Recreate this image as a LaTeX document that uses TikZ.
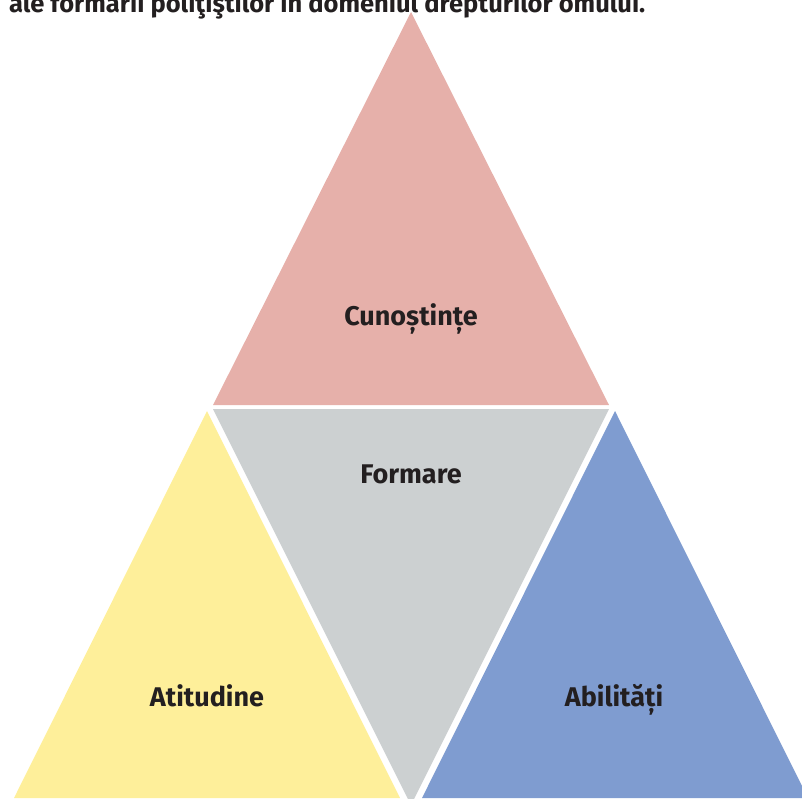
\documentclass[tikz,border=0pt]{standalone}
\usepackage{fontspec}
\setmainfont{Fira Sans}
\definecolor{cpink}{HTML}{E6B0AA}
\definecolor{cgray}{HTML}{CCD0D1}
\definecolor{cyellow}{HTML}{FEEF9A}
\definecolor{cblue}{HTML}{7F9CD0}
\definecolor{ctext}{HTML}{231F20}
\begin{document}
\begin{tikzpicture}[x=1pt,y=-1pt,
  lbl/.style={font=\fontsize{27}{31}\selectfont\bfseries, text=ctext, inner sep=0pt, anchor=base}]
\useasboundingbox (0,0) rectangle (802,798);
\clip (0,0) rectangle (802,798);
\fill[cpink] (411,12) coordinate (p1) -- (213,405) coordinate (p2) -- (609,405) coordinate (p3) -- cycle;
\fill[cgray] (213,409) coordinate (g1) -- (609,409) coordinate (g2) -- (411,805) coordinate (g3) -- cycle;
\fill[cyellow] (207,411) coordinate (y1) -- (14,798) coordinate (y2) -- (400,798) coordinate (y3) -- cycle;
\fill[cblue] (615,411) coordinate (b1) -- (422,798) coordinate (b2) -- (808,798) coordinate (b3) -- cycle;
\node[lbl, font=\fontsize{25.5}{29}\selectfont\bfseries, anchor=base west] (title) at (9,12) {ale formării poliţiştilor în domeniul drepturilor omului.};
\node[lbl] (cun) at (411,325) {Cunoștințe};
\node[lbl] (form) at (411,483) {Formare};
\node[lbl] (atit) at (207,706) {Atitudine};
\node[lbl] (abil) at (614,706) {Abilități};
\end{tikzpicture}
\end{document}
